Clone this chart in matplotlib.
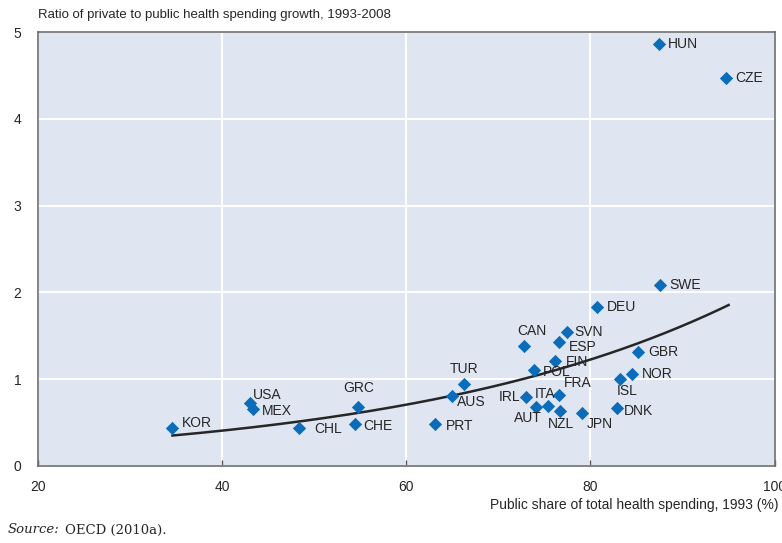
"""Scatter of private vs public health spending growth against 1993 public share."""
import numpy as np
import matplotlib
matplotlib.use("Agg")
import matplotlib.pyplot as plt
from matplotlib import font_manager

BG = "#DFE6F2"
BLUE = "#0B6DBA"
INK = "#262626"

countries = ["HUN", "CZE", "SWE", "DEU", "CAN", "SVN", "ESP", "FIN", "POL", "FRA",
             "IRL", "ITA", "AUT", "NZL", "JPN", "DNK", "ISL", "NOR", "GBR", "KOR",
             "USA", "MEX", "CHL", "GRC", "CHE", "PRT", "TUR", "AUS"]
public_share = [87.4, 94.7, 87.5, 80.7, 72.8, 77.5, 76.6, 76.1, 73.9, 76.6,
                73.0, 75.4, 74.1, 76.7, 79.1, 82.9, 83.2, 84.5, 85.2, 34.6,
                43.0, 43.4, 48.3, 54.7, 54.4, 63.1, 66.3, 65.0]
ratio = [4.86, 4.47, 2.09, 1.83, 1.38, 1.54, 1.43, 1.21, 1.11, 0.82,
         0.79, 0.69, 0.68, 0.63, 0.61, 0.67, 1.00, 1.06, 1.31, 0.44,
         0.73, 0.66, 0.44, 0.68, 0.48, 0.48, 0.94, 0.81]

# exponential trend y = a * exp(b * x), drawn over the observed x range
trend_a, trend_b = 0.1347, 0.0276
trend_x0, trend_x1 = 34.6, 95.0

# label placement (pixel offsets from the marker, alignment)
label_pos = {
    "HUN": (9, 0, "left", "center"), "CZE": (9, 0, "left", "center"),
    "SWE": (10, 0, "left", "center"), "DEU": (10, 0, "left", "center"),
    "CAN": (8, 15, "center", "center"), "SVN": (7, 0, "left", "center"),
    "ESP": (10, -5, "left", "center"), "FIN": (11, -1, "left", "center"),
    "POL": (9, -2, "left", "center"), "FRA": (5, 12, "left", "center"),
    "IRL": (-6, 0, "right", "center"), "ITA": (-3, 12, "center", "center"),
    "AUT": (-8, -11, "center", "center"), "NZL": (1, -13, "center", "center"),
    "JPN": (5, -11, "left", "center"), "DNK": (7, -3, "left", "center"),
    "ISL": (7, -12, "center", "center"), "NOR": (10, 0, "left", "center"),
    "GBR": (10, 0, "left", "center"), "KOR": (9, 5, "left", "center"),
    "USA": (3, 8, "left", "center"), "MEX": (8, -2, "left", "center"),
    "CHL": (16, -1, "left", "center"), "GRC": (1, 19, "center", "center"),
    "CHE": (8, -2, "left", "center"), "PRT": (11, -2, "left", "center"),
    "TUR": (0, 15, "center", "center"), "AUS": (5, -6, "left", "center"),
}

names = {f.name for f in font_manager.fontManager.ttflist}
FONT = "Liberation Sans Narrow" if "Liberation Sans Narrow" in names else "Liberation Sans"
plt.rcParams.update({"font.family": [FONT, "DejaVu Sans"], "font.size": 9})

fig = plt.figure(figsize=(7.82, 5.43), dpi=100)
ax = fig.add_axes([0.0486, 0.142, 0.942, 0.799])
ax.set_facecolor(BG)
ax.set_xlim(20, 100)
ax.set_ylim(0, 5)
ax.set_xticks([20, 40, 60, 80, 100])
ax.set_yticks([0, 1, 2, 3, 4, 5])
ax.grid(True, color="white", lw=1.4)
ax.set_axisbelow(True)
for side in ax.spines.values():
    side.set_color("#6E6E6E")
    side.set_linewidth(1.2)
ax.tick_params(axis="x", direction="in", length=4, width=1, color="#555555",
               pad=10, labelsize=10, labelcolor=INK)
ax.tick_params(axis="y", length=0, pad=12, labelsize=10, labelcolor=INK)
ax.tick_params(top=False, right=False)

tx = np.linspace(trend_x0, trend_x1, 200)
ax.plot(tx, trend_a * np.exp(trend_b * tx), color=INK, lw=1.8, zorder=2)

ax.scatter(public_share, ratio, marker="D", s=46, color=BLUE, lw=0, zorder=3)
for c, x, y in zip(countries, public_share, ratio):
    dx, dy, ha, va = label_pos[c]
    ax.annotate(c, (x, y), xytext=(dx, dy), textcoords="offset pixels",
                ha=ha, va=va, fontsize=10, color=INK, zorder=4)

fig.text(0.0486, 0.973, "Ratio of private to public health spending growth, 1993-2008",
         ha="left", va="center", fontsize=9.5, color=INK)
fig.text(0.995, 0.070, "Public share of total health spending, 1993 (%)",
         ha="right", va="center", fontsize=10, color=INK)
fig.text(0.010, 0.024, "Source:", ha="left", va="center", fontsize=9.5,
         family="DejaVu Serif", style="italic", color=INK)
fig.text(0.083, 0.024, "OECD (2010a).", ha="left", va="center", fontsize=9.5,
         family="DejaVu Serif", color=INK)

fig.savefig("out.png", dpi=100, facecolor="white")
